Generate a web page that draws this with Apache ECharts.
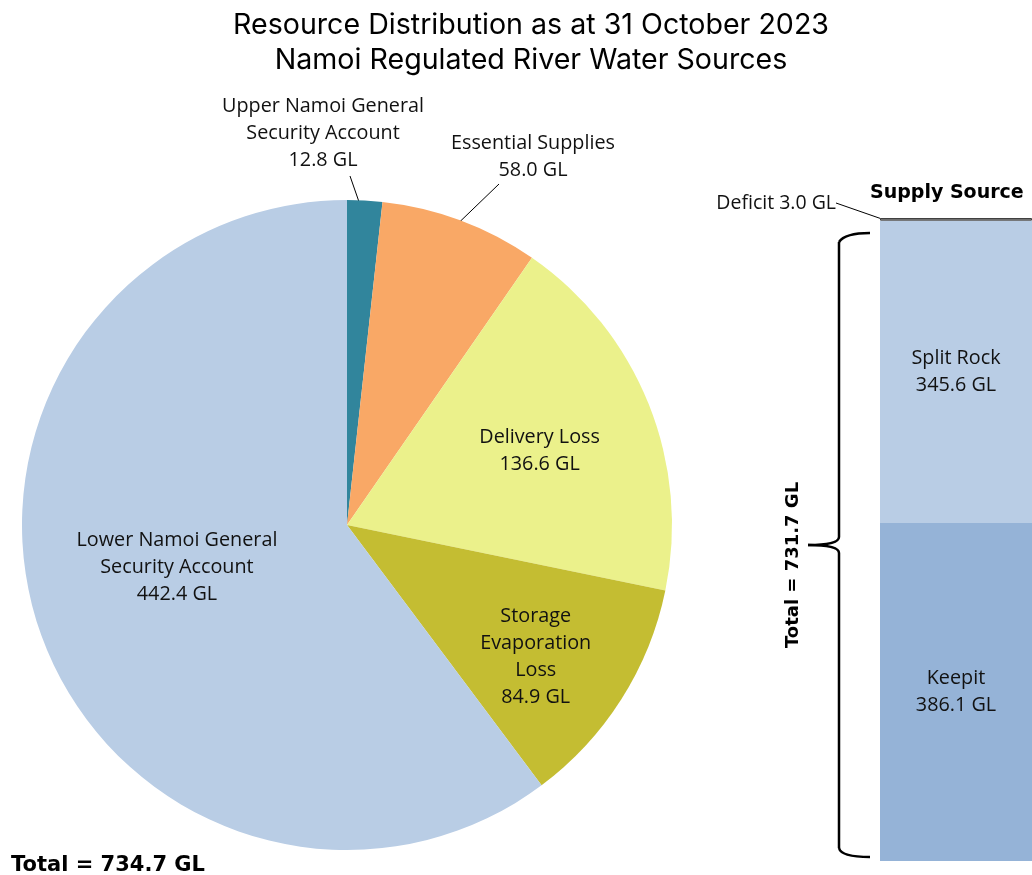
<!DOCTYPE html>
<html>
<head>
<meta charset="utf-8">
<script src="https://cdn.jsdelivr.net/npm/echarts@6/dist/echarts.min.js"></script>
<style>
  html, body { margin: 0; padding: 0; background: #fff; }
  #chart { width: 1032px; height: 875px; }
</style>
</head>
<body>
<div id="chart"></div>
<script>
// pie: resource distribution (clockwise from 12 o'clock)
const sliceNames = ['Upper Namoi General\nSecurity Account', 'Essential Supplies', 'Delivery Loss', 'Storage\nEvaporation\nLoss', 'Lower Namoi General\nSecurity Account'];
const sliceValues = [12.8, 58.0, 136.6, 84.9, 442.4];
const sliceColors = ['#31859C', '#F9A866', '#EBF18B', '#C4BD32', '#B9CDE5'];
const pieTotal = 734.7;

// stacked bar: supply source (bottom to top)
const supplyNames = ['Keepit', 'Split Rock'];
const supplyValues = [386.1, 345.6];
const supplyColors = ['#95B3D7', '#B9CDE5'];
const deficitValue = 3.0;
const supplyTotal = 731.7;

const labelFont = '"Open Sans", "Noto Sans", sans-serif';
const boldFont = '"DejaVu Sans", sans-serif';

// label placement for pie (inside ones shifted, outside ones moved with leader line)
const pieLabelPlace = [
  { x: 323, y: 133, align: 'center', verticalAlign: 'middle', labelLinePoints: [[350, 176], [366, 222]] },
  { x: 533, y: 157, align: 'center', verticalAlign: 'middle', labelLinePoints: [[499, 184], [445, 236]] },
  { dx: 39, dy: -13 },
  { dx: 49, dy: 43 },
  { dx: -13, dy: -10 },
];

const chart = echarts.init(document.getElementById('chart'));

const option = {
  animation: false,
  title: [
    {
      text: 'Resource Distribution as at 31 October 2023\nNamoi Regulated River Water Sources',
      left: 526,
      top: 3,
      textAlign: 'center',
      textStyle: { fontFamily: 'Inter, "Liberation Sans", Arial', fontSize: 28.6, fontWeight: 'normal', color: '#000', lineHeight: 35 },
    },
    {
      text: 'Total = ' + pieTotal.toFixed(1) + ' GL',
      left: 6,
      top: 850,
      textStyle: { fontFamily: boldFont, fontSize: 21, fontWeight: 'bold', color: '#000' },
    },
    {
      text: 'Supply Source',
      left: 865,
      top: 179,
      textStyle: { fontFamily: boldFont, fontSize: 19, fontWeight: 'bold', color: '#000' },
    },
  ],
  grid: { left: 880, top: 218, width: 162, height: 643 },
  xAxis: { type: 'category', data: ['Supply'], show: false },
  yAxis: { type: 'value', min: 0, max: supplyTotal + deficitValue, show: false },
  series: [
    {
      type: 'pie',
      center: [347, 525],
      radius: 325,
      startAngle: 90,
      clockwise: true,
      silent: true,
      data: sliceNames.map((n, i) => ({
        name: n,
        value: sliceValues[i],
        itemStyle: { color: sliceColors[i] },
        label: { position: i < 2 ? 'outside' : 'inside' },
        labelLine: { show: i < 2 },
      })),
      label: {
        fontFamily: labelFont,
        fontSize: 19.8,
        lineHeight: 27,
        color: '#111',
        align: 'center',
        formatter: (p) => p.name + '\n' + p.value.toFixed(1) + ' GL',
      },
      labelLine: { lineStyle: { color: '#000', width: 1 }, length: 20, length2: 10 },
      labelLayout: (p) => pieLabelPlace[p.dataIndex],
    },
    ...supplyNames.map((n, i) => ({
      type: 'bar',
      name: n,
      stack: 'supply',
      barWidth: '100%',
      silent: true,
      data: [supplyValues[i]],
      itemStyle: { color: supplyColors[i] },
      label: {
        show: true,
        position: 'inside',
        fontFamily: labelFont,
        fontSize: 19.8,
        lineHeight: 27,
        color: '#111',
        formatter: () => n + '\n' + supplyValues[i].toFixed(1) + ' GL',
      },
    })),
    {
      type: 'bar',
      name: 'Deficit',
      stack: 'supply',
      barWidth: '100%',
      silent: true,
      data: [deficitValue],
      itemStyle: { color: '#8C8C8C', borderColor: '#404040', borderWidth: 1 },
      label: {
        show: true,
        position: 'left',
        fontFamily: labelFont,
        fontSize: 19.5,
        color: '#111',
        formatter: () => 'Deficit ' + deficitValue.toFixed(1) + ' GL',
      },
      labelLine: { show: true, lineStyle: { color: '#000', width: 1 } },
      labelLayout: () => ({ x: 836, y: 203, align: 'right', verticalAlign: 'middle', labelLinePoints: [[840, 204], [880, 219]] }),
    },
  ],
  graphic: [
    // curly brace for supply total
    { type: 'bezierCurve', shape: { x1: 870, y1: 233, cpx1: 845, cpy1: 233, x2: 839, y2: 242 }, style: { stroke: '#000', lineWidth: 2.5, fill: null } },
    { type: 'line', shape: { x1: 839, y1: 242, x2: 839, y2: 537 }, style: { stroke: '#000', lineWidth: 2.5 } },
    { type: 'bezierCurve', shape: { x1: 839, y1: 537, cpx1: 839, cpy1: 545, x2: 808, y2: 545 }, style: { stroke: '#000', lineWidth: 2.5, fill: null } },
    { type: 'bezierCurve', shape: { x1: 808, y1: 545, cpx1: 839, cpy1: 545, x2: 839, y2: 553 }, style: { stroke: '#000', lineWidth: 2.5, fill: null } },
    { type: 'line', shape: { x1: 839, y1: 553, x2: 839, y2: 848 }, style: { stroke: '#000', lineWidth: 2.5 } },
    { type: 'bezierCurve', shape: { x1: 839, y1: 848, cpx1: 841, cpy1: 857, x2: 870, y2: 857 }, style: { stroke: '#000', lineWidth: 2.5, fill: null } },
    {
      type: 'text',
      x: 793,
      y: 565,
      rotation: Math.PI / 2,
      style: {
        text: 'Total = ' + supplyTotal.toFixed(1) + ' GL',
        font: 'bold 18px "DejaVu Sans", sans-serif',
        fill: '#000',
        align: 'center',
        verticalAlign: 'middle',
      },
    },
  ],
};

chart.setOption(option);
</script>
</body>
</html>
